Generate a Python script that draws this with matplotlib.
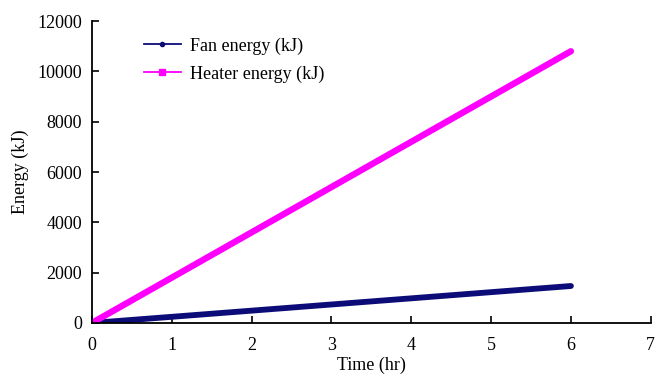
import matplotlib
matplotlib.use('Agg')
import matplotlib.pyplot as plt
from matplotlib.lines import Line2D

# values (hourly)
time_hr = [0, 1, 2, 3, 4, 5, 6]
fan_energy = [0, 245, 490, 735, 980, 1225, 1470]
heater_energy = [0, 1800, 3600, 5400, 7200, 9000, 10800]

x_ticks = [0, 1, 2, 3, 4, 5, 6, 7]
y_ticks = [0, 2000, 4000, 6000, 8000, 10000, 12000]

FAN_COLOR = '#0c0c78'
HEATER_COLOR = '#ff00ff'


def main():
    plt.rcParams['font.family'] = ['Liberation Serif', 'DejaVu Serif']
    fig = plt.figure(figsize=(6.56, 3.76), dpi=100)
    ax = fig.add_axes([0.140, 0.141, 0.852, 0.803])

    ax.plot(time_hr, fan_energy, color=FAN_COLOR, lw=4.2, solid_capstyle='round')
    ax.plot(time_hr, heater_energy, color=HEATER_COLOR, lw=4.6, solid_capstyle='round')

    ax.set_xlim(0, 7)
    ax.set_ylim(0, 12000)
    ax.set_xticks(x_ticks)
    ax.set_yticks(y_ticks)
    ax.tick_params(direction='in', length=5, width=1.2, labelsize=13)
    ax.tick_params(axis='x', pad=10)
    ax.tick_params(axis='y', pad=7)
    for side in ['top', 'right']:
        ax.spines[side].set_visible(False)
    for side in ['left', 'bottom']:
        ax.spines[side].set_linewidth(1.3)
    ax.set_xlabel('Time (hr)', fontsize=13, labelpad=2)
    ax.set_ylabel('Energy (kJ)', fontsize=13, labelpad=6)

    handles = [
        Line2D([], [], color=FAN_COLOR, lw=1.3, marker='o', markersize=3),
        Line2D([], [], color=HEATER_COLOR, lw=1.3, marker='s', markersize=4.5),
    ]
    ax.legend(handles, ['Fan energy (kJ)', 'Heater energy (kJ)'], loc='upper left',
              bbox_to_anchor=(0.065, 1.0), frameon=False, fontsize=13,
              handlelength=2.0, handletextpad=0.5, labelspacing=0.6)

    fig.savefig('out.png', dpi=100)


if __name__ == '__main__':
    main()
